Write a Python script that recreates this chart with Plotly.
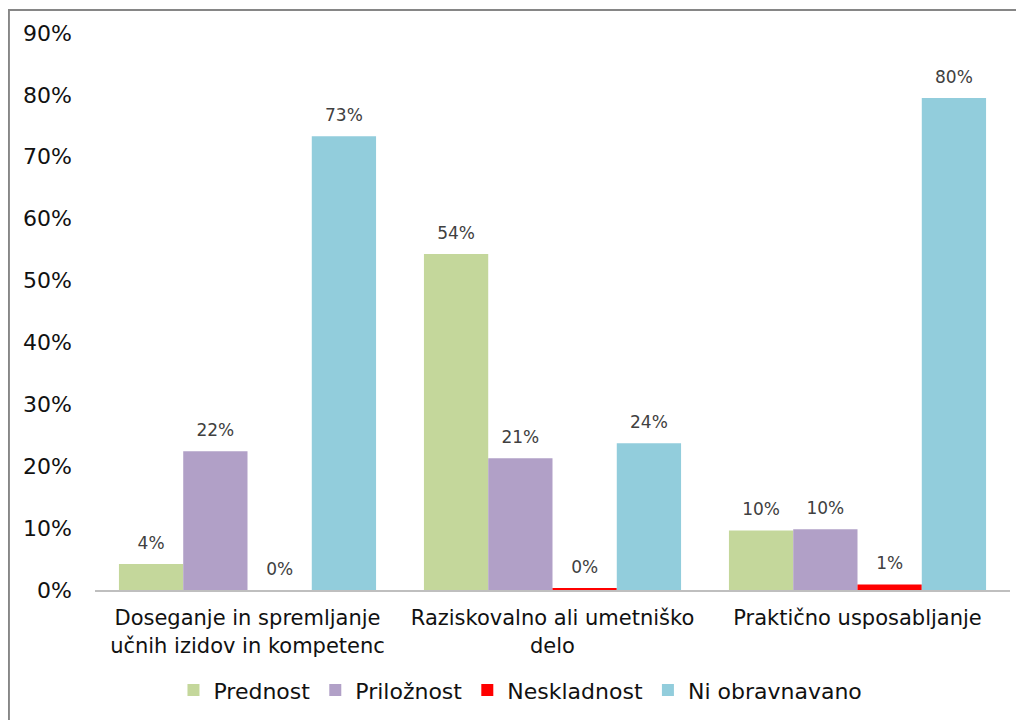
import plotly.graph_objects as go

categories = [
    "Doseganje in spremljanje<br>učnih izidov in kompetenc",
    "Raziskovalno ali umetniško<br>delo",
    "Praktično usposabljanje",
]
series_names = ["Prednost", "Priložnost", "Neskladnost", "Ni obravnavano"]
prednost = [0.042, 0.543, 0.096]
priloznost = [0.224, 0.213, 0.098]
neskladnost = [0.0, 0.003, 0.009]
ni_obravnavano = [0.733, 0.237, 0.795]
y_ticks = [0, 0.1, 0.2, 0.3, 0.4, 0.5, 0.6, 0.7, 0.8, 0.9]

colors = ["#C4D79B", "#B1A0C7", "#FF0000", "#92CDDC"]
font = "DejaVu Sans, Verdana, sans-serif"

fig = go.Figure()
for name, vals, color in zip(series_names, [prednost, priloznost, neskladnost, ni_obravnavano], colors):
    fig.add_trace(go.Bar(
        x=categories, y=vals, name=name, offsetgroup=name,
        marker=dict(color=color, line=dict(width=0)),
    ))
# value labels sit a bit higher above the bars than plotly's own outside text
for name, vals in zip(series_names, [prednost, priloznost, neskladnost, ni_obravnavano]):
    fig.add_trace(go.Scatter(
        x=categories, y=vals, offsetgroup=name, mode="markers+text",
        marker=dict(size=16, opacity=0), texttemplate="%{y:.0%}",
        textposition="top center", showlegend=False, hoverinfo="skip",
        textfont=dict(size=17, color="#404040", family=font), cliponaxis=False,
    ))

# page has an 8px body margin, so the figure starts at (8, 8)
fig.update_layout(
    width=1016, height=712,
    margin=dict(l=87, r=14, t=25, b=130, autoexpand=False),
    paper_bgcolor="white", plot_bgcolor="white",
    barmode="group", bargap=0.157, bargroupgap=0,
    scattermode="group", scattergap=0.157,
    font=dict(family=font, color="#111111"),
    showlegend=True,
    legend=dict(
        orientation="h", x=0.465, xanchor="center", y=-0.18, yanchor="middle",
        font=dict(size=22, family=font, color="#111111"),
        itemwidth=30, traceorder="normal",
    ),
    xaxis=dict(
        showgrid=False, showline=True, linecolor="#BFBFBF", linewidth=2,
        ticks="", tickfont=dict(size=21, family=font, color="#111111"),
        ticklabelstandoff=8, automargin=False,
    ),
    yaxis=dict(
        range=[0, 0.9], tickvals=y_ticks, tickformat=".0%",
        showgrid=False, zeroline=False, showline=False,
        ticks="", ticklen=0, tickfont=dict(size=22, family=font, color="#111111"),
        ticklabelstandoff=22, automargin=False,
    ),
    shapes=[
        dict(type="line", xref="paper", yref="paper", x0=-87 / 915, x1=(1016 - 87) / 915,
             y0=1 + 23 / 557, y1=1 + 23 / 557, line=dict(color="#868686", width=2)),
        dict(type="line", xref="paper", yref="paper", x0=-87 / 915 + 0.001, x1=-87 / 915 + 0.001,
             y0=1 + 23 / 557, y1=-130 / 557, line=dict(color="#868686", width=2)),
    ],
)

fig.write_html("out.html")
